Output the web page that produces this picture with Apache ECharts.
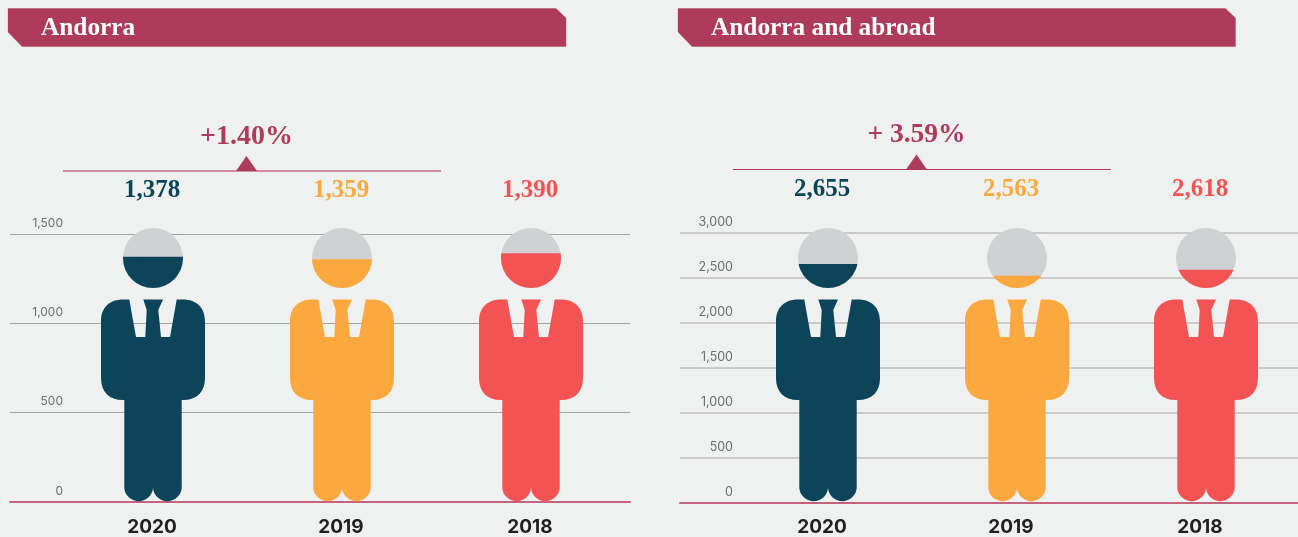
<!DOCTYPE html>
<html>
<head>
<meta charset="utf-8" />
<style>
  html, body { margin: 0; padding: 0; background: #eff1f0; }
  #main { width: 1298px; height: 537px; }
</style>
<script src="https://cdn.jsdelivr.net/npm/echarts@6/dist/echarts.min.js"></script>
</head>
<body>
<div id="main"></div>
<script>
const years = ["2020", "2019", "2018"];
const colors = ["#0c4559", "#fba83e", "#f45353"];

const andorraValues = [1378, 1359, 1390];
const abroadValues = [2655, 2563, 2618];
// the heads in the picture are filled to these levels
const andorraLevels = [1373, 1359, 1393];
const abroadLevels = [2655, 2522, 2589];

const andorraTicks = [0, 500, 1000, 1500];
const abroadTicks = [0, 500, 1000, 1500, 2000, 2500, 3000];

const andorraTitle = "Andorra";
const abroadTitle = "Andorra and abroad";
const andorraChange = "+1.40%";
const abroadChange = "+ 3.59%";

const crimson = "#ae3a5c";
const serif = "'Liberation Serif', serif";
const sans = "Inter, sans-serif";

// figure, head + suit. Last bit is an empty segment that keeps the box down to the axis
const person =
  "path://M52,0A30,30 0 0 1 52,60A30,30 0 0 1 52,0Z" +
  "M22,71.5L28.3,71.5L35,109L44.3,109L45.7,82L42.3,71.5L62,71.5L57.3,82L60,109L69,109L75.7,71.5L82,71.5" +
  "C96,71.5 104,80 104,93.5L104,150C104,164 96,172 82,172L80.7,172L80.7,257.6" +
  "A14.35,14.35 0 0 1 52,260A14.35,14.35 0 0 1 23.3,257.6L23.3,172L22,172" +
  "C8,172 0,164 0,150L0,93.5C0,80 8,71.5 22,71.5Z" +
  "M52,274L52,274.01";

function banner(x, right, title) {
  return [
    {
      type: "polygon",
      shape: { points: [[x, 8.5], [right - 10, 8.5], [right, 18], [right, 46.5], [x + 14, 46.5], [x, 32]] },
      style: { fill: crimson, stroke: "rgba(174,58,92,.35)", lineWidth: 1 },
    },
    {
      type: "text",
      x: x + 33,
      y: 28,
      style: { text: title, fill: "#fff", font: "bold 25.3px " + serif, textVerticalAlign: "middle" },
    },
  ];
}

function change(x, lineY, lineColor, lineWidth, text, textY, size) {
  return [
    {
      type: "line",
      shape: { x1: x, y1: lineY, x2: x + 378, y2: lineY },
      style: { stroke: lineColor, lineWidth: lineWidth },
    },
    {
      type: "polygon",
      shape: { points: [[x + 173, lineY], [x + 183.5, lineY - 15], [x + 194, lineY]] },
      style: { fill: crimson },
    },
    {
      type: "text",
      x: x + 183.5,
      y: textY,
      style: { text: text, fill: crimson, font: "bold " + size + "px " + serif, textAlign: "center", textVerticalAlign: "middle" },
    },
  ];
}

// one panel = a grid for the rules and a grid on the same scale for the figures
function panel(opt, gridIdx) {
  const lineGrid = { left: opt.left, width: opt.width, top: opt.lineTop, height: opt.base - opt.lineTop };
  // boundaryGap off, so this grid runs from the first figure's centre to the last one's
  const figGrid = { left: opt.figLeft, width: 378, top: 228, height: opt.base - 228 };
  const top = opt.figMax;
  return {
    grids: [lineGrid, figGrid],
    xAxes: [
      {
        type: "value",
        gridIndex: gridIdx,
        min: 0,
        max: 1,
        axisLabel: { show: false },
        axisTick: { show: false },
        splitLine: { show: false },
        axisLine: { lineStyle: { color: "#c4647f", width: 2 } },
      },
      {
        type: "category",
        gridIndex: gridIdx + 1,
        boundaryGap: false,
        data: years,
        axisLine: { show: false },
        axisTick: { show: false },
        axisLabel: {
          interval: 0,
          margin: 16,
          padding: [0, opt.shift, 0, 0],
          color: "#231f20",
          fontFamily: sans,
          fontWeight: 700,
          fontSize: 19,
        },
      },
      {
        type: "category",
        gridIndex: gridIdx + 1,
        boundaryGap: false,
        position: "top",
        data: opt.values.map((v) => v.toLocaleString("en-US")),
        axisLine: { show: false },
        axisTick: { show: false },
        axisLabel: {
          interval: 0,
          margin: opt.labelMargin,
          padding: [0, opt.shift, 0, 0],
          color: (value, i) => colors[i],
          fontFamily: serif,
          fontWeight: 700,
          fontSize: 25,
        },
      },
    ],
    yAxes: [
      {
        type: "value",
        gridIndex: gridIdx,
        min: 0,
        max: opt.ticks[opt.ticks.length - 1],
        interval: 500,
        axisLine: { show: false },
        axisTick: { show: false },
        splitLine: { lineStyle: { color: opt.ruleColor, width: opt.ruleWidth } },
        axisLabel: {
          inside: true,
          align: "right",
          verticalAlign: "bottom",
          margin: opt.tickRight,
          padding: [0, 0, opt.tickPad, 0],
          color: "#6d6e71",
          fontFamily: sans,
          fontSize: opt.tickSize,
          formatter: (v) => v.toLocaleString("en-US"),
        },
      },
      {
        type: "value",
        gridIndex: gridIdx + 1,
        min: 0,
        max: top,
        show: false,
      },
    ],
    series: [
      {
        type: "pictorialBar",
        xAxisIndex: opt.axisBase + 1,
        yAxisIndex: gridIdx + 1,
        symbol: "circle",
        symbolSize: 60,
        symbolPosition: "end",
        itemStyle: { color: "#d0d1d3" },
        data: years.map(() => top),
        z: 3,
      },
      {
        type: "pictorialBar",
        xAxisIndex: opt.axisBase + 1,
        yAxisIndex: gridIdx + 1,
        symbol: person,
        symbolSize: [104, "100%"],
        symbolBoundingData: top,
        symbolClip: true,
        data: opt.levels.map((v, i) => ({ value: v, itemStyle: { color: colors[i] } })),
        z: 4,
      },
    ],
  };
}

const left = panel(
  {
    left: 10, width: 620, lineTop: 234, base: 502, figLeft: 153, figMax: 1534,
    values: andorraValues, levels: andorraLevels, ticks: andorraTicks,
    ruleColor: "#a6a6a6", ruleWidth: 1, tickRight: 53, tickSize: 12, tickPad: 5, labelMargin: 25, shift: 2, axisBase: 0,
  },
  0
);
const right = panel(
  {
    left: 680, width: 618, lineTop: 233, base: 503, figLeft: 828, figMax: 3055,
    values: abroadValues, levels: abroadLevels, ticks: abroadTicks,
    ruleColor: "#bdbdbd", ruleWidth: 1.5, tickRight: 53, tickSize: 12.5, tickPad: 4, labelMargin: 26, shift: 12, axisBase: 3,
  },
  2
);

const chart = echarts.init(document.getElementById("main"));
chart.setOption({
  animation: false,
  backgroundColor: "#eff1f0",
  grid: left.grids.concat(right.grids),
  xAxis: left.xAxes.concat(right.xAxes),
  yAxis: left.yAxes.concat(right.yAxes),
  series: left.series.concat(right.series),
  graphic: [].concat(
    banner(8, 566, andorraTitle),
    banner(678, 1235.5, abroadTitle),
    change(63, 171, "#cd8ca0", 2, andorraChange, 137, 28),
    change(733, 169.5, crimson, 1, abroadChange, 135, 27.5)
  ),
});
</script>
</body>
</html>
